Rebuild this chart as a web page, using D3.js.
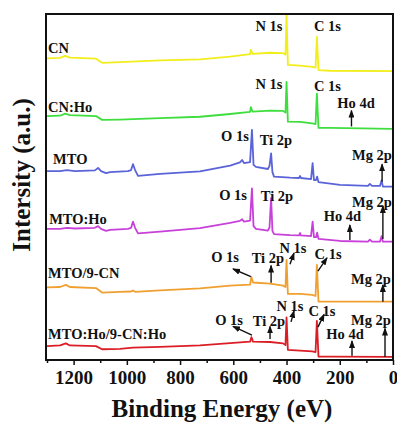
<!DOCTYPE html>
<html>
<head>
<meta charset="utf-8">
<script src="https://cdn.jsdelivr.net/npm/d3@7"></script>
<style>
  html, body { margin: 0; padding: 0; background: #fff; }
  svg { display: block; font-family: "Liberation Serif", "Times New Roman", Times, "DejaVu Serif", serif; font-weight: bold; }
</style>
</head>
<body>
<svg id="chart" width="397" height="424"></svg>
<script>
// ---- XPS survey spectra: [binding energy (eV), intensity (a.u., stacked)] ----
const majorTicks = [1200, 1000, 800, 600, 400, 200, 0];
const minorTicks = [1300, 1100, 900, 700, 500, 300, 100];

const seriesNames = ["CN", "CN:Ho", "MTO", "MTO:Ho", "MTO/9-CN", "MTO:Ho/9-CN:Ho"];

const cnSpectrum = [
  [1300, 87.2], [1251, 87.3], [1232, 87.9], [1214, 87.4], [1116, 87.1], [1093, 85.9],
  [1026, 86.1], [875, 86.6], [725, 86.9], [612, 87.7], [537, 88.4], [534, 89.7],
  [528, 88.5], [462, 88.8], [413, 88.7], [404, 88.2], [400, 100], [395, 85.3],
  [349, 85.1], [304, 84.7], [291, 84.5], [286, 93.4], [280, 83.8], [237, 83.6], [0, 83.5]
];
const cnHoSpectrum = [
  [1300, 70.5], [1251, 70.6], [1232, 71.2], [1214, 70.8], [1116, 70.5], [1093, 69.4],
  [1026, 69.5], [875, 69.9], [725, 70.3], [612, 71.1], [537, 71.7], [534, 73.1],
  [528, 71.8], [462, 72.1], [413, 72.0], [404, 71.5], [400, 80.4], [395, 68.9],
  [349, 68.8], [304, 68.4], [291, 68.2], [286, 77.0], [280, 67.1], [237, 67.1], [0, 66.8]
];
const mtoSpectrum = [
  [1300, 54.6], [1251, 54.6], [1225, 54.9], [1195, 54.6], [1120, 54.8], [1108, 55.5],
  [1097, 54.6], [1078, 54.0], [1063, 54.3], [996, 54.6], [984, 54.9], [977, 56.6],
  [969, 54.9], [958, 53.2], [875, 53.8], [725, 54.5], [612, 56.2], [575, 57.1],
  [567, 57.8], [560, 56.9], [537, 57.2], [530, 66.5], [524, 56.4], [515, 55.8],
  [470, 55.2], [464, 56.1], [458, 59.7], [453, 54.3], [447, 53.0], [387, 52.7],
  [353, 52.6], [349, 53.2], [346, 52.6], [308, 52.3], [302, 56.9], [297, 52.0],
  [289, 52.0], [285, 53.0], [280, 51.4], [199, 50.6], [94, 50.3], [87, 50.9],
  [79, 50.3], [49, 50.3], [43, 51.9], [38, 50.1], [0, 50.1]
];
const mtoHoSpectrum = [
  [1300, 37.9], [1251, 37.9], [1225, 38.2], [1195, 38.0], [1120, 38.2], [1108, 38.7],
  [1097, 37.9], [1078, 37.3], [1063, 37.6], [996, 37.9], [984, 38.2], [977, 40.0],
  [969, 38.2], [958, 36.6], [875, 37.1], [725, 38.1], [612, 39.6], [575, 40.2],
  [567, 40.7], [560, 40.0], [537, 40.3], [530, 49.6], [524, 38.7], [515, 37.9],
  [470, 37.4], [464, 38.3], [458, 46.8], [453, 37.3], [447, 36.4], [387, 36.1],
  [353, 36.0], [349, 36.7], [346, 36.0], [308, 35.8], [302, 40.0], [297, 35.5],
  [289, 35.5], [285, 36.8], [280, 35.0], [199, 34.4], [94, 34.2], [87, 34.8],
  [79, 34.2], [49, 34.2], [43, 35.8], [38, 34.2], [0, 34.2]
];
const mtoCnSpectrum = [
  [1300, 21.0], [1251, 21.1], [1229, 21.7], [1214, 21.1], [1116, 20.8], [1093, 19.5],
  [1026, 19.7], [984, 19.8], [977, 20.1], [969, 19.7], [875, 20.1], [725, 20.7],
  [612, 21.5], [537, 21.8], [532, 24.0], [526, 22.4], [462, 22.1], [413, 21.5],
  [404, 21.1], [400, 28.9], [395, 19.1], [349, 19.1], [304, 18.8], [291, 18.5],
  [286, 27.5], [280, 16.9], [237, 16.9], [0, 16.9]
];
const mtoHoCnHoSpectrum = [
  [1300, 4.0], [1251, 4.2], [1229, 4.8], [1214, 4.2], [1116, 4.0], [1093, 3.1],
  [1026, 3.2], [977, 3.6], [875, 3.8], [725, 4.2], [612, 4.9], [537, 5.3],
  [532, 6.6], [526, 5.3], [462, 5.2], [413, 4.8], [404, 4.3], [400, 12.3],
  [395, 2.9], [349, 2.7], [304, 2.5], [291, 2.3], [286, 11.3], [280, 1.0],
  [237, 1.0], [0, 0.9]
];

const spectra = [cnSpectrum, cnHoSpectrum, mtoSpectrum, mtoHoSpectrum, mtoCnSpectrum, mtoHoCnHoSpectrum];

// ---- annotations (placed in data units) ----
// sample name: [name index, eV, intensity]
const nameLabels = [
  [0, 1296, 90.3], [1, 1296, 73.0], [2, 1277, 58.0],
  [3, 1292, 40.7], [4, 1296, 25.1], [5, 1296, 7.5]
];
// peak label: [text, eV, intensity]
const peakLabels = [
  ["N 1s", 466, 96.5], ["C 1s", 246, 96.5],
  ["N 1s", 466, 79.9], ["C 1s", 246, 79.3], ["Ho 4d", 139, 74.4],
  ["O 1s", 594, 64.9], ["Ti 2p", 440, 63.6], ["Mg 2p", 79, 59.2],
  ["O 1s", 601, 47.7], ["Ti 2p", 436, 47.4], ["Mg 2p", 79, 45.8], ["Ho 4d", 190, 41.5],
  ["O 1s", 631, 29.8], ["Ti 2p", 470, 29.5], ["N 1s", 376, 32.5], ["C 1s", 244, 30.6], ["Mg 2p", 83, 23.3],
  ["O 1s", 616, 11.6], ["Ti 2p", 466, 11.3], ["N 1s", 387, 15.5], ["C 1s", 267, 14.3], ["Mg 2p", 83, 11.7], ["Ho 4d", 180, 7.5]
];
// arrow: [eV start, intensity start, eV tip, intensity tip]
const peakArrows = [
  [156, 67.5, 156, 72.1],
  [41, 51.5, 41, 56.6],
  [38, 35.0, 38, 44.5], [162, 34.7, 162, 39.0],
  [534, 24.1, 601, 26.3], [458, 22.3, 458, 27.3], [387, 27.7, 372, 30.9], [282, 25.7, 248, 29.5], [38, 16.8, 38, 21.7],
  [530, 7.2, 601, 9.7], [462, 6.1, 462, 9.7], [383, 11.0, 372, 14.2], [282, 9.5, 259, 13.2], [30, 0.9, 30, 9.1], [154, 1.2, 154, 5.5]
];

// ---- drawing ----
const colors = ["#f2ee1c", "#3ede3e", "#5a63d8", "#c840da", "#efa030", "#db1e26"];
const plot = { left: 46, top: 14, right: 393, bottom: 360 };
const serif = '"Liberation Serif", "Times New Roman", Times, "DejaVu Serif", serif';

const svg = d3.select("#chart");
const x = d3.scaleLinear().domain([1300, 0]).range([plot.left + 1, plot.right]);
const y = d3.scaleLinear().domain([0, 100]).range([plot.bottom, plot.top]);

const defs = svg.append("defs");
defs.append("clipPath").attr("id", "plot-clip")
  .append("rect")
  .attr("x", plot.left).attr("y", plot.top)
  .attr("width", plot.right - plot.left).attr("height", plot.bottom - plot.top);

defs.append("marker")
  .attr("id", "arrowhead")
  .attr("markerUnits", "userSpaceOnUse")
  .attr("viewBox", "0 0 8 6")
  .attr("refX", 7).attr("refY", 3)
  .attr("markerWidth", 8).attr("markerHeight", 6)
  .attr("orient", "auto")
  .append("path").attr("d", "M0,0 L8,3 L0,6 Z").attr("fill", "#111");

const line = d3.line().x(d => x(d[0])).y(d => y(d[1]));

svg.append("g").attr("clip-path", "url(#plot-clip)")
  .selectAll("path").data(spectra).join("path")
  .attr("d", line)
  .attr("fill", "none")
  .attr("stroke", (d, i) => colors[i])
  .attr("stroke-width", 1.8)
  .attr("stroke-linejoin", "round");

// frame
svg.append("rect")
  .attr("x", plot.left).attr("y", plot.top)
  .attr("width", plot.right - plot.left).attr("height", plot.bottom - plot.top)
  .attr("fill", "none").attr("stroke", "#111").attr("stroke-width", 2);

// bottom axis: major and minor ticks
const xAxis = svg.append("g").attr("transform", `translate(0,${plot.bottom})`)
  .call(d3.axisBottom(x).tickValues(majorTicks).tickSizeInner(5).tickSizeOuter(0).tickPadding(6).tickFormat(d3.format("d")));
xAxis.select(".domain").remove();
xAxis.selectAll("line").attr("stroke", "#111").attr("stroke-width", 1.5);
xAxis.selectAll("text").attr("font-size", 19).attr("fill", "#111")
  .attr("font-family", serif).attr("font-weight", "bold");

const xMinor = svg.append("g").attr("transform", `translate(0,${plot.bottom})`)
  .call(d3.axisBottom(x).tickValues(minorTicks).tickSizeInner(3).tickSizeOuter(0).tickFormat(""));
xMinor.select(".domain").remove();
xMinor.selectAll("line").attr("stroke", "#111").attr("stroke-width", 1.5);

// axis titles
svg.append("text")
  .attr("x", 222).attr("y", 416.5)
  .attr("text-anchor", "middle")
  .attr("font-family", serif)
  .attr("font-size", 25).attr("fill", "#111")
  .text("Binding Energy (eV)");

svg.append("text")
  .attr("transform", "translate(29.5,175) rotate(-90)")
  .attr("text-anchor", "middle")
  .attr("font-family", serif)
  .attr("font-size", 25).attr("fill", "#111")
  .text("Intersity (a.u.)");

// sample names
svg.append("g").attr("font-family", serif).selectAll("text").data(nameLabels).join("text")
  .attr("x", d => x(d[1])).attr("y", d => y(d[2]))
  .attr("dy", "0.35em")
  .attr("font-size", 14.5).attr("fill", "#111")
  .text(d => seriesNames[d[0]]);

// peak assignments
svg.append("g").attr("font-family", serif).selectAll("text").data(peakLabels).join("text")
  .attr("x", d => x(d[1])).attr("y", d => y(d[2]))
  .attr("dy", "0.35em")
  .attr("text-anchor", "middle")
  .attr("font-size", 14.5).attr("fill", "#111")
  .text(d => d[0]);

svg.append("g").selectAll("line").data(peakArrows).join("line")
  .attr("x1", d => x(d[0])).attr("y1", d => y(d[1]))
  .attr("x2", d => x(d[2])).attr("y2", d => y(d[3]))
  .attr("stroke", "#111").attr("stroke-width", 1.4)
  .attr("marker-end", "url(#arrowhead)");
</script>
</body>
</html>
